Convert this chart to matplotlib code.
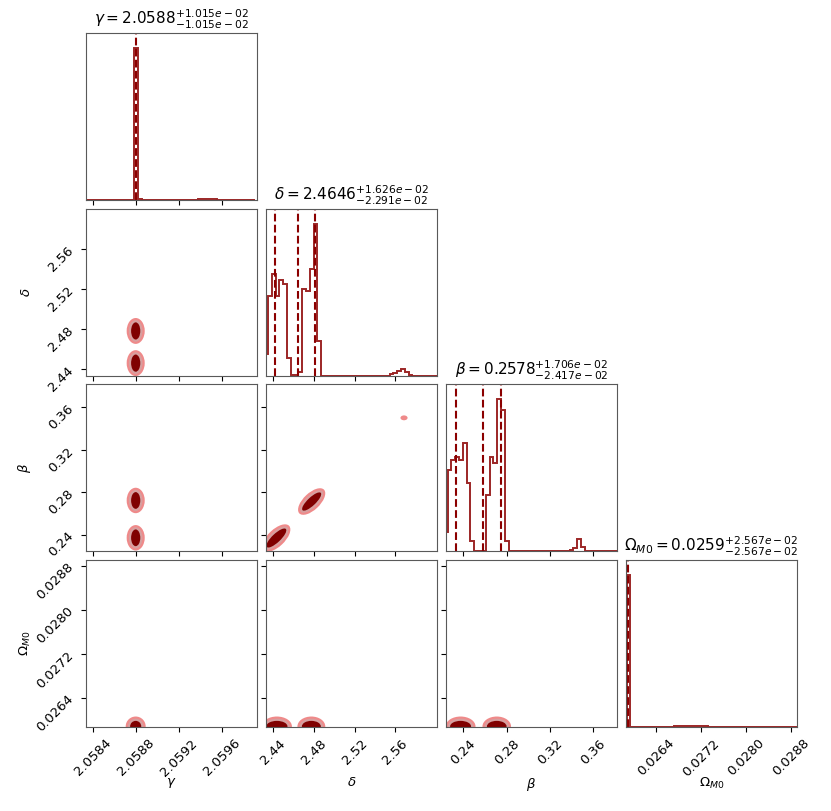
import matplotlib.pyplot as plt
import numpy as np
from matplotlib.patches import Ellipse

# parameter names and summary numbers shown in the titles
labels = [r'$\gamma$', r'$\delta$', r'$\beta$', r'$\Omega_{M0}$']
medians = [2.0588, 2.4646, 0.2578, 0.0259]
err_hi = [1.015e-02, 1.626e-02, 1.706e-02, 2.567e-02]
err_lo = [1.015e-02, 2.291e-02, 2.417e-02, 2.567e-02]

# axis ranges and ticks
ranges = [(2.058338, 2.059928), (2.4328, 2.6009), (0.2240, 0.3819), (0.02587, 0.02891)]
ticks = [[2.0584, 2.0588, 2.0592, 2.0596],
         [2.44, 2.48, 2.52, 2.56],
         [0.24, 0.28, 0.32, 0.36],
         [0.0264, 0.0272, 0.0280, 0.0288]]
tick_labels = [['2.0584', '2.0588', '2.0592', '2.0596'],
               ['2.44', '2.48', '2.52', '2.56'],
               ['0.24', '0.28', '0.32', '0.36'],
               ['0.0264', '0.0272', '0.0280', '0.0288']]

# 1D histograms (bin start, bin width, heights relative to the peak)
bin_start = [2.058325, 2.4311, 0.22197, 0.025882]
bin_width = [3.53e-5, 0.003735, 0.003523, 0.00006]

gamma_hist = [0] * 13 + [1.0, 0.008] + [0] * 11 + \
    [0.003, 0.004, 0.005, 0.006, 0.008, 0.010, 0.011, 0.009, 0.007, 0.006, 0.005, 0.004, 0.003] + [0] * 6
delta_hist = [0.144, 0.526, 0.672, 0.526, 0.629, 0.603, 0.118, 0.009, 0.004, 0.024,
              0.574, 0.555, 0.705, 1.0, 0.231] + [0] * 18 + \
    [0.015, 0.022, 0.035, 0.045, 0.025, 0.006, 0.002, 0.003, 0.002, 0.003, 0.002, 0.002, 0]
beta_hist = [0.127, 0.538, 0.60, 0.62, 0.60, 0.71, 0.45, 0.07, 0, 0.005, 0.005,
             0.37, 0.62, 0.58, 1.0, 0.93, 0.07] + [0] * 14 + \
    [0.003, 0, 0.01, 0.02, 0.083, 0.03, 0.005, 0, 0, 0.003, 0, 0, 0, 0, 0]
omega_hist = [1.0] + [0] * 12 + \
    [0.003, 0.004, 0.004, 0.005, 0.006, 0.006, 0.007, 0.008, 0.006, 0.005, 0.004, 0.003] + [0] * 26
hists = [gamma_hist, delta_hist, beta_hist, omega_hist]

# 2D density blobs: (x param, y param, centre x, centre y, semi x, semi y, angle, levels)
blobs = [
    (0, 1, 2.0588, 2.4780, 8.4e-5, 0.0130, 0, 3),
    (0, 1, 2.0588, 2.4457, 8.4e-5, 0.0130, 0, 3),
    (0, 2, 2.0588, 0.2721, 8.4e-5, 0.0120, 0, 3),
    (0, 2, 2.0588, 0.2369, 8.4e-5, 0.0120, 0, 3),
    (0, 3, 2.0588, 0.02588, 9.3e-5, 0.00018, 0, 3),
    (1, 2, 2.4777, 0.2711, 0.0165, 0.0080, 42, 3),
    (1, 2, 2.4430, 0.2367, 0.0170, 0.0082, 42, 3),
    (1, 2, 2.5685, 0.3500, 0.0035, 0.0023, 0, 1),
    (1, 3, 2.4774, 0.02588, 0.0137, 0.00018, 0, 3),
    (1, 3, 2.4435, 0.02588, 0.0148, 0.00018, 0, 3),
    (2, 3, 0.2709, 0.02588, 0.0132, 0.00018, 0, 3),
    (2, 3, 0.2375, 0.02588, 0.0138, 0.00018, 0, 3),
]
level_colors = ['#ef8a8a', '#d6a0a0', '#800000']
level_shrink = [0.0, 0.013, 0.026]

line_col = '#8b0000'

fig, axes = plt.subplots(4, 4, figsize=(8.31, 8.11), dpi=100)
fig.subplots_adjust(left=0.1035, right=0.959, bottom=0.1036, top=0.9593,
                    wspace=0.0526, hspace=0.048)

n = len(labels)
for i in range(n):
    for j in range(n):
        ax = axes[i, j]
        if j > i:
            ax.set_visible(False)
            continue
        for s in ax.spines.values():
            s.set_edgecolor('0.35')
        ax.set_xlim(ranges[j])
        ax.set_xticks(ticks[j])
        if i == n - 1:
            ax.set_xticklabels(tick_labels[j], rotation=45, fontsize=9.5)
            ax.set_xlabel(labels[j], fontsize=9.5)
            ax.xaxis.set_label_coords(0.5, -0.29)
        else:
            ax.set_xticklabels([])

        if i == j:
            vals = hists[i]
            edges = bin_start[i] + bin_width[i] * np.arange(len(vals) + 1)
            ax.hist(edges[:-1], bins=edges, weights=vals, histtype='step',
                    color=line_col, lw=1.4, alpha=0.85)
            ax.set_ylim(0, 1.1 * max(vals))
            ax.set_yticks([])
            for q in [medians[i] - err_lo[i], medians[i], medians[i] + err_hi[i]]:
                ax.axvline(q, ls='--', color=line_col, lw=1.5)
            title = r'$%s = %.4f^{+%.3e}_{-%.3e}$' % (labels[i].strip('$'), medians[i], err_hi[i], err_lo[i])
            ax.set_title(title, fontsize=11)
            continue

        ax.set_ylim(ranges[i])
        ax.set_yticks(ticks[i])
        if j == 0:
            ax.set_yticklabels(tick_labels[i], rotation=45, fontsize=9.5)
            ax.set_ylabel(labels[i], fontsize=9.5)
            ax.yaxis.set_label_coords(-0.31, 0.5)
        else:
            ax.set_yticklabels([])

        spanx = ranges[j][1] - ranges[j][0]
        spany = ranges[i][1] - ranges[i][0]
        for bx, by, cx, cy, sx, sy, ang, nlev in blobs:
            if bx != j or by != i:
                continue
            for k in range(nlev):
                w = 2 * (sx - level_shrink[k] * spanx)
                h = 2 * (sy - level_shrink[k] * spany)
                ax.add_patch(Ellipse((cx, cy), w, h, angle=ang,
                                     facecolor=level_colors[k], edgecolor='none'))

fig.savefig('out.png', dpi=100)
